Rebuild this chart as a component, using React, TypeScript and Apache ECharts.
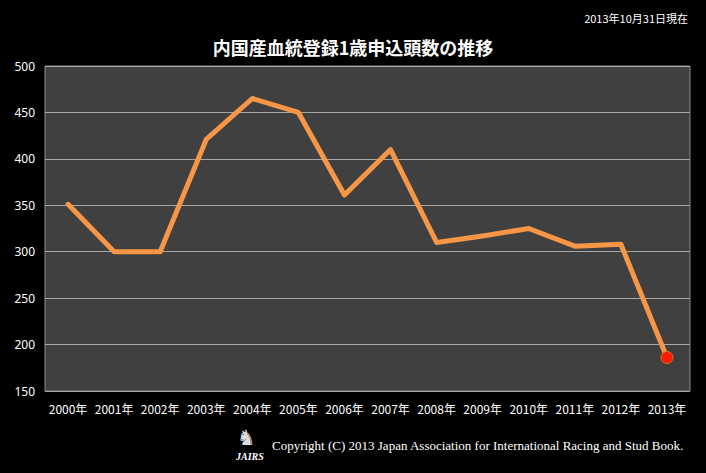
import React, { useEffect, useRef } from "react";
import * as echarts from "echarts";

const categories = ["2000年","2001年","2002年","2003年","2004年","2005年","2006年","2007年","2008年","2009年","2010年","2011年","2012年","2013年"];
const values = [351, 300, 300, 421, 465, 450, 361, 410, 310, 317, 325, 306, 308, 186];
const yTicks = { min: 150, max: 500, interval: 50 };
const titleText = "内国産血統登録1歳申込頭数の推移";
const dateText = "2013年10月31日現在";
const copyrightText = "Copyright (C) 2013 Japan Association for International Racing and Stud Book.";

export default function App() {
  const ref = useRef<HTMLDivElement>(null);
  useEffect(() => {
    document.body.style.margin = "0";
    document.body.style.background = "#000";
    const chart = echarts.init(ref.current!, null, { renderer: "svg" });
    const lastIdx = values.length - 1;
    chart.setOption({
      animation: false,
      backgroundColor: "#000",
      title: {
        text: titleText,
        left: "center",
        top: 33,
        textStyle: { color: "#fff", fontSize: 18, fontWeight: "bold", fontFamily: "Noto Sans CJK JP" },
      },
      graphic: [
        {
          type: "text",
          right: 18,
          top: 12,
          style: { text: dateText, fill: "#fff", fontSize: 11, fontFamily: "Noto Sans CJK JP" },
        },
        {
          type: "text",
          left: 237,
          top: 427,
          style: { text: "♞", fill: "#ddd", fontSize: 21, lineHeight: 22, fontFamily: "DejaVu Sans" },
        },
        {
          type: "text",
          left: 236,
          top: 451,
          style: { text: "JAIRS", fill: "#fff", fontSize: 10, lineHeight: 11, fontStyle: "italic", fontWeight: "bold", fontFamily: "Liberation Serif" },
        },
        {
          type: "text",
          left: 272,
          top: 439,
          style: { text: copyrightText, fill: "#fff", fontSize: 13, fontFamily: "Liberation Serif" },
        },
      ],
      grid: {
        left: 45, right: 16, top: 66, bottom: 82,
        show: true, backgroundColor: "#404040", borderColor: "#8a8a8a", borderWidth: 1,
      },
      xAxis: {
        type: "category",
        data: categories,
        boundaryGap: true,
        axisLine: { show: false },
        axisTick: { show: false },
        axisLabel: { color: "#fff", fontSize: 12, margin: 11, interval: 0, fontFamily: "Noto Sans CJK JP" },
      },
      yAxis: {
        type: "value",
        min: yTicks.min,
        max: yTicks.max,
        interval: yTicks.interval,
        axisLine: { show: false },
        axisTick: { show: false },
        axisLabel: { color: "#fff", fontSize: 12, margin: 10, fontFamily: "Noto Sans" },
        splitLine: { lineStyle: { color: "#a6a6a6", width: 1 } },
      },
      series: [
        {
          type: "line",
          data: values.map((v, i) =>
            i === lastIdx
              ? { value: v, symbol: "circle", symbolSize: 12, itemStyle: { color: "#ff1a00", borderColor: "#e07020", borderWidth: 1 } }
              : { value: v, symbol: "none" }
          ),
          showSymbol: true,
          lineStyle: { color: "#f79646", width: 5, cap: "round", join: "round" },
          itemStyle: { color: "#f79646" },
        },
      ],
    });
    return () => chart.dispose();
  }, []);
  return <div ref={ref} style={{ width: 706, height: 473 }} />;
}
